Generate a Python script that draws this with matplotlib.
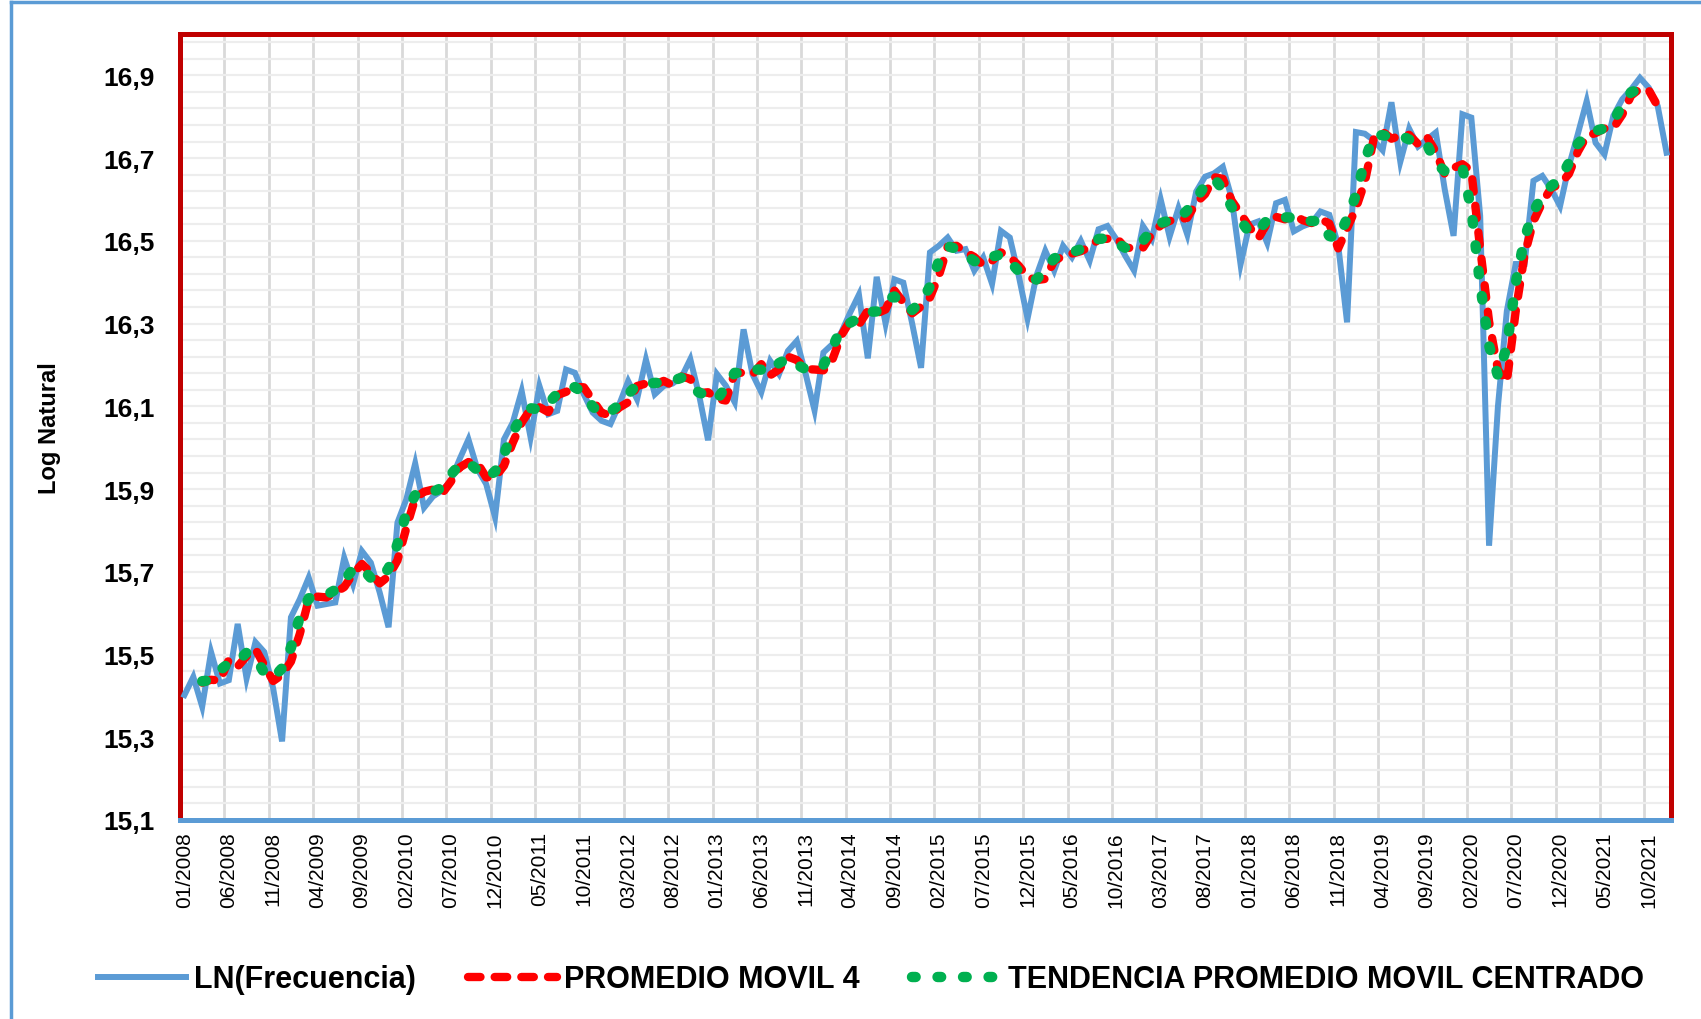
import matplotlib
matplotlib.use("Agg")
import matplotlib.pyplot as plt
from matplotlib.lines import Line2D
from matplotlib.ticker import FixedLocator
import numpy as np
import pandas as pd

# Monthly categories 01/2008 .. 12/2021
months = pd.date_range("2008-01-01", periods=168, freq="MS").strftime("%m/%Y").tolist()

# LN(Frecuencia) (one row per year)
ln_frecuencia = [
    15.402, 15.446, 15.374, 15.506, 15.430, 15.438, 15.574, 15.442, 15.530, 15.506, 15.418, 15.290,
    15.590, 15.634, 15.686, 15.618, 15.622, 15.626, 15.734, 15.670, 15.750, 15.722, 15.650, 15.566,
    15.819, 15.875, 15.962, 15.855, 15.882, 15.896, 15.920, 15.972, 16.020, 15.949, 15.912, 15.832,
    16.020, 16.061, 16.137, 16.025, 16.149, 16.081, 16.089, 16.189, 16.181, 16.129, 16.085, 16.065,
    16.057, 16.105, 16.161, 16.117, 16.213, 16.129, 16.149, 16.155, 16.170, 16.214, 16.126, 16.018,
    16.178, 16.150, 16.110, 16.286, 16.178, 16.134, 16.210, 16.178, 16.234, 16.258, 16.178, 16.090,
    16.230, 16.250, 16.278, 16.326, 16.370, 16.216, 16.413, 16.300, 16.407, 16.399, 16.300, 16.193,
    16.472, 16.488, 16.508, 16.476, 16.480, 16.428, 16.460, 16.396, 16.524, 16.508, 16.416, 16.312,
    16.416, 16.476, 16.428, 16.488, 16.460, 16.500, 16.452, 16.528, 16.536, 16.504, 16.464, 16.428,
    16.536, 16.504, 16.600, 16.510, 16.579, 16.515, 16.619, 16.655, 16.663, 16.679, 16.603, 16.443,
    16.539, 16.547, 16.495, 16.591, 16.599, 16.523, 16.535, 16.543, 16.571, 16.563, 16.490, 16.303,
    16.763, 16.759, 16.743, 16.719, 16.835, 16.691, 16.771, 16.728, 16.745, 16.762, 16.625, 16.512,
    16.806, 16.798, 16.560, 15.763, 16.100, 16.330, 16.444, 16.444, 16.645, 16.657, 16.625, 16.584,
    16.681, 16.758, 16.838, 16.737, 16.709, 16.802, 16.842, 16.866, 16.894, 16.870, 16.826, 16.713,
]

y_ticks = [15.1, 15.3, 15.5, 15.7, 15.9, 16.1, 16.3, 16.5, 16.7, 16.9]
y_tick_labels = ["15,1", "15,3", "15,5", "15,7", "15,9", "16,1", "16,3", "16,5", "16,7", "16,9"]

legend_labels = ["LN(Frecuencia)", "PROMEDIO MOVIL 4", "TENDENCIA PROMEDIO MOVIL CENTRADO"]

# 4-month moving average and its centred version
serie = pd.Series(ln_frecuencia)
promedio_movil_4 = serie.rolling(4).mean().shift(-1)
tendencia_centrada = (promedio_movil_4 + promedio_movil_4.shift(-1)) / 2

plt.rcParams["font.family"] = ["Liberation Sans", "DejaVu Sans"]

BLUE = "#5B9BD5"
RED_BORDER = "#C00000"

fig = plt.figure(figsize=(17.01, 10.2), dpi=100)
ax = fig.add_axes([180 / 1701, 1 - 821 / 1020, 1491 / 1701, 786 / 1020])

x = np.arange(len(ln_frecuencia))
ax.plot(x, serie, color=BLUE, lw=4.3, solid_joinstyle="miter", zorder=3,
        label=legend_labels[0])
ax.plot(x, promedio_movil_4, color="#FF0000", lw=6, linestyle=(0, (1.5, 1.7)),
        dash_capstyle="round", zorder=4, label=legend_labels[1])
ax.plot(x, tendencia_centrada, color="#00B050", lw=7.5, linestyle=(0, (0.35, 2.1)),
        dash_capstyle="round", zorder=5, label=legend_labels[2])

ax.set_xlim(-0.5, len(months) - 0.5)
ax.set_ylim(15.1, 17.0)

# x axis: labels every 5 months, gridlines on category boundaries
tick_pos = list(range(0, len(months), 5))
ax.set_xticks(tick_pos)
ax.set_xticklabels([months[i] for i in tick_pos], rotation=90, fontsize=15)
ax.xaxis.set_minor_locator(FixedLocator([p - 0.5 for p in tick_pos[1:]]))
ax.tick_params(axis="x", which="both", length=0, pad=8)
ax.grid(axis="x", which="minor", color="#D9D9D9", lw=2)

# y axis
ax.set_yticks(y_ticks)
ax.set_yticklabels(y_tick_labels, fontsize=19, fontweight="bold")
ax.yaxis.set_minor_locator(FixedLocator(np.arange(15.1, 17.0, 0.04)))
ax.tick_params(axis="y", which="both", length=0, pad=18)
ax.grid(axis="y", which="both", color="#EDEDED", lw=1.6)
ax.set_axisbelow(True)

ax.set_ylabel("Log Natural", fontsize=17, fontweight="bold")
ax.yaxis.set_label_coords(-0.080, 0.5)

for side in ["left", "top", "right"]:
    ax.spines[side].set_color(RED_BORDER)
    ax.spines[side].set_linewidth(3.6)
ax.spines["bottom"].set_color(BLUE)
ax.spines["bottom"].set_linewidth(3.6)
ax.spines["bottom"].set_zorder(6)

fig.legend(loc="center", bbox_to_anchor=(0.512, 0.039), ncol=3, frameon=False,
           handlelength=2.9, handletextpad=0.25, columnspacing=1.7,
           prop={"weight": "bold", "size": 22})

# outer chart frame
fig.add_artist(Line2D([11 / 1701, 11 / 1701], [0, 1 - 3 / 1020], transform=fig.transFigure,
                      color=BLUE, lw=2.5))
fig.add_artist(Line2D([11 / 1701, 1], [1 - 3 / 1020, 1 - 3 / 1020], transform=fig.transFigure,
                      color=BLUE, lw=2.5))

fig.savefig("out.png", dpi=100)
